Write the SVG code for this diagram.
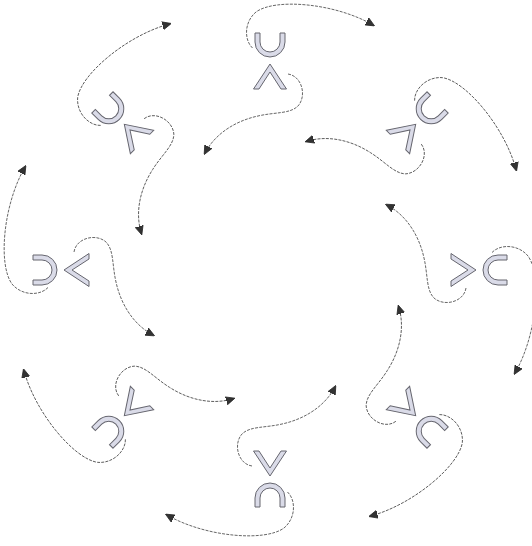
<svg xmlns="http://www.w3.org/2000/svg" xmlns:xlink="http://www.w3.org/1999/xlink" width="532" height="546" viewBox="0 0 532 546">
<style>
.sh{fill:#dadbe8;stroke:#66666f;stroke-width:1;stroke-linejoin:miter}
.cn{fill:none;stroke:#555;stroke-width:0.9;stroke-dasharray:3 1.2;marker-end:url(#ah)}
</style>
<defs>
<marker id="ah" viewBox="0 0 10 10" refX="8" refY="5" markerWidth="9" markerHeight="9" markerUnits="userSpaceOnUse" orient="auto">
<path d="M0,0.5 L10,5 L0,9.5 Z" fill="#333" stroke="#222" stroke-width="0.8"/>
</marker>
<path id="cup" class="sh" d="M255,33 V42 A15,15 0 0 0 285,42 V33 H280 V42 A10,10 0 0 1 260,42 V33 Z"/>
<path id="chev" class="sh" d="M253.5,89 L270,64 L286.5,89 L281,89 L270,72 L259,89 Z"/>
<path id="a1" class="cn" d="M252.5,48 C244,40 244,22 256,12 C275,-2 335,3 373,25"/>
<path id="a2" class="cn" d="M288,74 C302,76 307,96 298,106 C290,114 275,112 258,116 C235,121 215,134 205,153"/>
</defs>
<rect width="532" height="546" fill="#fff"/>
<g id="nodes">
<g id="unit-0"><use href="#cup"/><use href="#chev"/></g>
<g id="unit-45" transform="rotate(45 270 270)"><use href="#cup"/><use href="#chev"/></g>
<g id="unit-90" transform="rotate(90 270 270)"><use href="#cup"/><use href="#chev"/></g>
<g id="unit-135" transform="rotate(135 270 270)"><use href="#cup"/><use href="#chev"/></g>
<g id="unit-180" transform="rotate(180 270 270)"><use href="#cup"/><use href="#chev"/></g>
<g id="unit-225" transform="rotate(225 270 270)"><use href="#cup"/><use href="#chev"/></g>
<g id="unit-270" transform="rotate(270 270 270)"><use href="#cup"/><use href="#chev"/></g>
<g id="unit-315" transform="rotate(315 270 270)"><use href="#cup"/><use href="#chev"/></g>
</g>
<g id="connectors">
<g><use href="#a1"/><use href="#a2"/></g>
<g transform="rotate(45 270 270)"><use href="#a1"/><use href="#a2"/></g>
<g transform="rotate(90 270 270)"><use href="#a1"/><use href="#a2"/></g>
<g transform="rotate(135 270 270)"><use href="#a1"/><use href="#a2"/></g>
<g transform="rotate(180 270 270)"><use href="#a1"/><use href="#a2"/></g>
<g transform="rotate(225 270 270)"><use href="#a1"/><use href="#a2"/></g>
<g transform="rotate(270 270 270)"><use href="#a1"/><use href="#a2"/></g>
<g transform="rotate(315 270 270)"><use href="#a1"/><use href="#a2"/></g>
</g>
</svg>
